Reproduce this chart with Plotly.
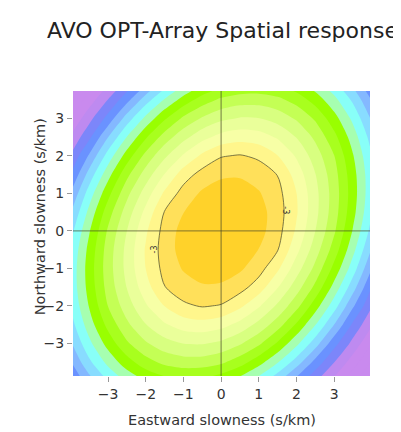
import plotly.graph_objects as go

# slowness grid (s/km)
east = [-4, -3.5, -3, -2.5, -2, -1.5, -1, -0.5, 0, 0.5, 1, 1.5, 2, 2.5, 3, 3.5, 4]
north = [-4, -3.5, -3, -2.5, -2, -1.5, -1, -0.5, 0, 0.5, 1, 1.5, 2, 2.5, 3, 3.5, 4]

# array response (dB), one row per northward slowness (south first)
response_db = [
    [-15.09, -13.44, -11.95, -10.84, -9.98, -9.41, -9.17, -9.28, -9.72, -10.46, -11.48, -12.82, -14.44, -15.89, -17.29, -18.77, -19.99],
    [-14.06, -12.21, -10.71, -9.43, -8.40, -7.74, -7.45, -7.47, -7.81, -8.54, -9.61, -10.92, -12.48, -14.35, -15.98, -17.52, -19.09],
    [-13.16, -11.25, -9.61, -8.15, -7.13, -6.39, -5.97, -5.92, -6.23, -6.88, -7.80, -9.15, -10.74, -12.54, -14.63, -16.33, -17.98],
    [-12.46, -10.49, -8.69, -7.21, -6.04, -5.12, -4.54, -4.38, -4.65, -5.32, -6.32, -7.53, -9.13, -10.96, -13.01, -15.21, -16.91],
    [-11.97, -9.94, -7.98, -6.48, -5.12, -3.98, -3.18, -2.92, -3.07, -3.79, -4.87, -6.19, -7.67, -9.54, -11.56, -13.86, -15.93],
    [-11.75, -9.62, -7.61, -5.96, -4.41, -3.03, -2.45, -2.15, -2.22, -2.62, -3.48, -4.94, -6.53, -8.25, -10.36, -12.58, -15.04],
    [-11.75, -9.53, -7.46, -5.70, -3.99, -2.67, -1.91, -1.36, -1.33, -1.84, -2.59, -3.82, -5.53, -7.28, -9.31, -11.52, -13.99],
    [-11.95, -9.69, -7.54, -5.71, -3.90, -2.53, -1.59, -0.78, -0.55, -1.10, -2.03, -2.95, -4.71, -6.53, -8.45, -10.71, -13.10],
    [-12.41, -10.09, -7.85, -6.00, -4.15, -2.63, -1.63, -0.66, 0.00, -0.66, -1.63, -2.63, -4.15, -6.00, -7.85, -10.09, -12.41],
    [-13.10, -10.71, -8.45, -6.53, -4.71, -2.95, -2.03, -1.10, -0.55, -0.78, -1.59, -2.53, -3.90, -5.71, -7.54, -9.69, -11.95],
    [-13.99, -11.52, -9.31, -7.28, -5.53, -3.82, -2.59, -1.84, -1.33, -1.36, -1.91, -2.67, -3.99, -5.70, -7.46, -9.53, -11.75],
    [-15.04, -12.58, -10.36, -8.25, -6.53, -4.94, -3.48, -2.62, -2.22, -2.15, -2.45, -3.03, -4.41, -5.96, -7.61, -9.62, -11.75],
    [-15.93, -13.86, -11.56, -9.54, -7.67, -6.19, -4.87, -3.79, -3.07, -2.92, -3.18, -3.98, -5.12, -6.48, -7.98, -9.94, -11.97],
    [-16.91, -15.21, -13.01, -10.96, -9.13, -7.53, -6.32, -5.32, -4.65, -4.38, -4.54, -5.12, -6.04, -7.21, -8.69, -10.49, -12.46],
    [-17.98, -16.33, -14.63, -12.54, -10.74, -9.15, -7.80, -6.88, -6.23, -5.92, -5.97, -6.39, -7.13, -8.15, -9.61, -11.25, -13.16],
    [-19.09, -17.52, -15.98, -14.35, -12.48, -10.92, -9.61, -8.54, -7.81, -7.47, -7.45, -7.74, -8.40, -9.43, -10.71, -12.21, -14.06],
    [-19.99, -18.77, -17.29, -15.89, -14.44, -12.82, -11.48, -10.46, -9.72, -9.28, -9.17, -9.41, -9.98, -10.84, -11.95, -13.44, -15.09],
]

level_start = -19
level_end = -2
labelled_level = -3

# one colour per band, lowest band first
band_colors = [
    '#C98AEE', '#C98AEE', '#C98AEE', '#BE8AF0', '#7C86FA', '#6A92FF',
    '#84B8FF', '#88DCFF', '#88FFF8', '#A6FFB0', '#99FF00', '#A8FF1E',
    '#C4FF55', '#D8FF80', '#EAFF9A', '#F7FFA6', '#FFF68C', '#FFE05A',
    '#FFD22A',
]

ticks = [-3, -2, -1, 0, 1, 2, 3]

FONT = 'DejaVu Sans'

n = len(band_colors) - 1
colorscale = [[i / n, c] for i, c in enumerate(band_colors)]

fig = go.Figure()

# filled bands
fig.add_trace(go.Contour(
    x=east, y=north, z=response_db,
    autocontour=False,
    contours=dict(start=level_start, end=level_end, size=1, coloring='fill'),
    colorscale=colorscale,
    line=dict(width=0, smoothing=0.8),
    showscale=False,
    hoverinfo='skip'
))

# the single drawn contour
fig.add_trace(go.Contour(
    x=east, y=north, z=response_db,
    autocontour=False,
    contours=dict(start=labelled_level, end=labelled_level, size=1, coloring='none'),
    line=dict(width=1, color='rgba(80,80,50,0.75)', smoothing=0.8),
    showscale=False,
    hoverinfo='skip'
))

# zero slowness cross
line_style = dict(color='rgba(70,70,40,0.55)', width=1.3)
fig.add_shape(type='line', xref='x', yref='paper', x0=0, x1=0, y0=0, y1=1, line=line_style)
fig.add_shape(type='line', xref='paper', yref='y', x0=0, x1=1, y0=0, y1=0, line=line_style)

# contour labels
for lx, ly, ang in [(-1.76, -0.5, -90), (1.72, 0.55, 90)]:
    fig.add_annotation(x=lx, y=ly, text=str(labelled_level), showarrow=False,
                       textangle=ang, font=dict(family=FONT, size=8, color='#333'))

# axis titles
fig.add_annotation(xref='paper', yref='paper', x=0.502, y=-0.19,
                   text='Eastward slowness (s/km)', showarrow=False,
                   font=dict(family=FONT, size=14.5, color='#333'))
fig.add_annotation(xref='paper', yref='paper', x=-0.145, y=0.56,
                   text='Northward slowness (s/km)', showarrow=False, textangle=-90,
                   font=dict(family=FONT, size=14.5, color='#333'))

axis_style = dict(
    tickvals=ticks, ticks='outside', ticklen=5, tickcolor='#999',
    showgrid=False, zeroline=False, showline=False,
    tickfont=dict(family=FONT, size=14, color='#333')
)

fig.update_layout(
    width=401, height=432,
    margin=dict(l=65, r=39, t=83, b=64),
    paper_bgcolor='white', plot_bgcolor='white',
    title=dict(text='AVO OPT-Array Spatial response', x=39 / 401, xanchor='left',
               y=1 - 22 / 432, yanchor='middle',
               font=dict(family=FONT, size=22, color='#222')),
    xaxis=dict(range=[-3.93, 3.95], **axis_style),
    yaxis=dict(range=[-3.87, 3.73], **axis_style),
    showlegend=False
)

fig.write_html("out.html")
